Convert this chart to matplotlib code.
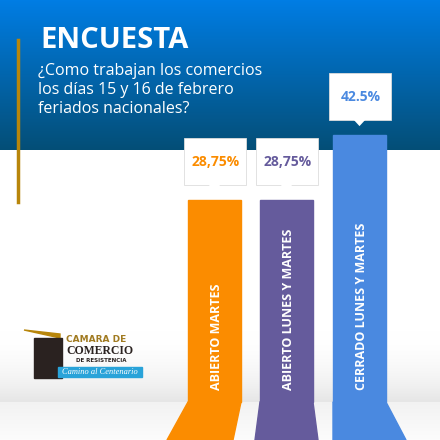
import matplotlib.pyplot as plt
import numpy as np
from matplotlib.patches import Polygon, Rectangle

categorias = ["ABIERTO MARTES", "ABIERTO LUNES Y MARTES", "CERRADO LUNES Y MARTES"]
valores = [28.75, 28.75, 42.5]
etiquetas = ["28,75%", "28,75%", "42.5%"]
colores = ["#fb8c00", "#655b9c", "#4a89e0"]

PISO = 402
ANCHO = 53
xs = [188, 260, 333]
ensanche = [(-21, -8), (-5, 5), (0, 20)]


def alturaBarra(v):
    # la escala del afiche no arranca en cero
    return 66 + 4.727 * v


fig = plt.figure(figsize=(4.4, 4.4), dpi=100)
ax = fig.add_axes([0, 0, 1, 1])
ax.set_xlim(0, 440)
ax.set_ylim(440, 0)
ax.axis("off")

# fondo
fondo = np.ones((440, 1, 3))
for y in range(440):
    if y < 150:
        t = y / 150
        fondo[y, 0] = np.array([0, 125, 228]) * (1 - t) / 255 + np.array([4, 78, 118]) * t / 255
    elif y < PISO:
        t = max(0, (y - 330) / (PISO - 330))
        fondo[y, 0] = (1 - 0.1 * t ** 2,) * 3
    else:
        fondo[y, 0] = (0.95 + 0.04 * (y - PISO) / 38,) * 3
ax.imshow(fondo, extent=[0, 440, 440, 0], aspect="auto", zorder=0)

ax.plot([18, 18], [40, 202], color="#b8860b", lw=2.5, zorder=2)
ax.text(40, 40, "ENCUESTA", color="white", fontsize=21, fontweight="bold",
        va="center", family="Open Sans", zorder=3)
ax.text(38, 90, "¿Como trabajan los comercios\nlos días 15 y 16 de febrero\nferiados nacionales?",
        color="white", fontsize=11.5, va="center", linespacing=1.25, family="Open Sans", zorder=3)

for x, v, cat, et, c, (dl, dr) in zip(xs, valores, categorias, etiquetas, colores, ensanche):
    tope = PISO - alturaBarra(v)
    ax.add_patch(Rectangle((x, tope), ANCHO, PISO - tope, color=c, zorder=2))
    ax.add_patch(Polygon([(x, PISO), (x + ANCHO, PISO), (x + ANCHO + dr, 440), (x + dl, 440)],
                         color=c, zorder=2))
    ax.text(x + ANCHO / 2 + 2, 390, cat, rotation=90, color="white", fontsize=9,
            fontweight="bold", ha="center", va="bottom", family="Open Sans", zorder=3)
    # globo con el porcentaje
    cx = x + ANCHO / 2
    yb = tope - 15
    ax.add_patch(Rectangle((cx - 31, yb - 47), 62, 47, facecolor="white", edgecolor="#dddddd",
                           lw=0.6, zorder=3))
    ax.add_patch(Polygon([(cx - 6, yb - 0.5), (cx + 6, yb - 0.5), (cx, yb + 6)],
                         facecolor="white", edgecolor="none", zorder=3))
    ax.text(cx + 1, yb - 23, et, color=c, fontsize=10, fontweight="bold",
            ha="center", va="center", family="Open Sans", zorder=4)

# logo
ax.add_patch(Polygon([(24, 330), (60, 334), (60, 338)], color="#b8860b", zorder=3))
ax.add_patch(Rectangle((34, 338), 28, 40, color="#2a2220", zorder=3))
ax.text(66, 340, "CAMARA DE", color="#a07a20", fontsize=6.5, fontweight="bold", va="center", zorder=3)
ax.text(66, 351, "COMERCIO", color="#2a2220", fontsize=8.5, family="Liberation Serif",
        fontweight="bold", va="center", zorder=3)
ax.text(76, 361, "DE RESISTENCIA", color="#2a2220", fontsize=4, fontweight="bold", va="center", zorder=3)
ax.add_patch(Rectangle((58, 367), 84, 10, color="#29a3d9", zorder=3))
ax.text(100, 372, "Camino al Centenario", color="white", fontsize=6, style="italic",
        ha="center", va="center", family="Liberation Serif", zorder=4)

fig.savefig("out.png", dpi=100)
